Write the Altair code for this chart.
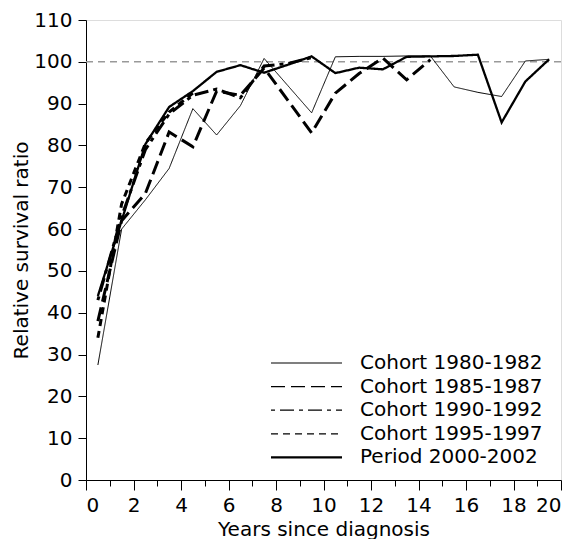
import altair as alt
import pandas as pd

years = [i + 0.5 for i in range(20)]

series_names = ["Cohort 1980-1982", "Cohort 1985-1987", "Cohort 1990-1992",
                "Cohort 1995-1997", "Period 2000-2002"]

cohort_1980 = [27.5, 60.0, 67.0, 74.5, 88.8, 82.5, 89.5, 100.8, 94.3, 87.8,
               101.2, 101.3, 101.3, 101.4, 101.4, 94.0, 92.7, 91.7, 100.2, 100.6]
cohort_1985 = [38.0, 62.0, 68.5, 83.2, 79.7, 93.0, 92.0, 98.5, 90.8, 83.0,
               92.5, 97.2, 100.9, 95.7, 100.5]
cohort_1990 = [43.0, 63.0, 79.0, 87.5, 92.0, 93.5, 91.4, 99.0, 99.6, 101.0]
cohort_1995 = [34.0, 66.0, 80.5, 88.0, 92.5]
period_2000 = [44.0, 62.0, 80.3, 89.2, 93.0, 97.6, 99.2, 97.4, 99.3, 101.3,
               97.3, 98.6, 98.2, 101.2, 101.3, 101.4, 101.7, 85.5, 95.3, 100.6]

values = [cohort_1980, cohort_1985, cohort_1990, cohort_1995, period_2000]

rows = []
for name, vals in zip(series_names, values):
    for x, v in zip(years, vals):
        rows.append({"series": name, "year": x, "ratio": v})
df = pd.DataFrame(rows)

FONT = "DejaVu Sans"

# styles
dash_range = [[1, 0], [14, 6], [4, 5, 14, 5], [7, 5], [1, 0]]
width_range = [1.0, 3.0, 3.0, 3.0, 2.3]
legend_width_range = [1.2, 1.3, 1.3, 1.3, 2.3]

dash_scale = alt.Scale(domain=series_names, range=dash_range)

x_axis = alt.Axis(
    values=list(range(0, 21)),
    labelExpr="datum.value % 2 == 0 ? datum.label : ''",
    tickSize={"condition": {"test": "datum.value % 2 == 0", "value": 10}, "value": 6},
    grid=False, domainColor="black", tickColor="black",
    labelFont=FONT, labelFontSize=20, labelColor="black", labelPadding=5,
    title="Years since diagnosis", titleFont=FONT, titleFontSize=20,
    titleFontWeight="normal", titleColor="black",
    titleY=59, titleBaseline="bottom",
)
y_axis = alt.Axis(
    values=list(range(0, 111, 10)),
    tickSize=8, grid=False, domainColor="black", tickColor="black",
    labelFont=FONT, labelFontSize=20, labelColor="black", labelPadding=6,
    title="Relative survival ratio", titleFont=FONT, titleFontSize=20,
    titleFontWeight="normal", titleColor="black", titlePadding=2,
)

x_scale = alt.Scale(domain=[0, 20], nice=False, zero=False)
y_scale = alt.Scale(domain=[0, 110], nice=False)

ref = alt.Chart(pd.DataFrame({"ref": [100]})).mark_rule(
    color="#999999", strokeDash=[7, 5], strokeWidth=1.5
).encode(y=alt.Y("ref:Q", scale=y_scale, axis=y_axis))

lines = alt.Chart(df).mark_line(color="black", strokeCap="butt", strokeJoin="miter").encode(
    x=alt.X("year:Q", scale=x_scale, axis=x_axis),
    y=alt.Y("ratio:Q", scale=y_scale, axis=y_axis),
    detail="series:N",
    strokeDash=alt.StrokeDash("series:N", scale=dash_scale, legend=None),
    strokeWidth=alt.StrokeWidth(
        "series:N",
        scale=alt.Scale(type="ordinal", domain=series_names, range=width_range),
        legend=None,
    ),
)

# legend (inside the plot, lower right), positioned in pixels of the plot area
leg_df = pd.DataFrame({"series": series_names, "idx": list(range(len(series_names)))})
LEG_X0, LEG_X1, LEG_TX, LEG_Y0, LEG_DY = 185, 256, 274, 343, 23.6

leg_base = alt.Chart(leg_df).transform_calculate(
    py=f"{LEG_Y0} + datum.idx * {LEG_DY}"
)
leg_lines = leg_base.mark_rule(color="black", strokeCap="butt").encode(
    x=alt.value(LEG_X0), x2=alt.value(LEG_X1),
    y=alt.Y("py:Q", scale=None, axis=None),
    strokeDash=alt.StrokeDash("series:N", scale=dash_scale, legend=None),
    strokeWidth=alt.StrokeWidth(
        "series:N",
        scale=alt.Scale(type="ordinal", domain=series_names, range=legend_width_range),
        legend=None,
    ),
)
leg_text = leg_base.mark_text(
    align="left", baseline="middle", font=FONT, fontSize=20, color="black"
).encode(
    x=alt.value(LEG_TX),
    y=alt.Y("py:Q", scale=None, axis=None),
    text="series:N",
)

chart = alt.layer(ref, lines, leg_lines, leg_text).resolve_scale(
    strokeWidth="independent"
).properties(
    width=475, height=460,
    autosize=alt.AutoSizeParams(type="none"),
    padding={"left": 78, "top": 12, "right": 6, "bottom": 59},
).configure_view(stroke=None).configure(background="white")

chart.save("out.html", embed_options={"renderer": "svg", "actions": False})
